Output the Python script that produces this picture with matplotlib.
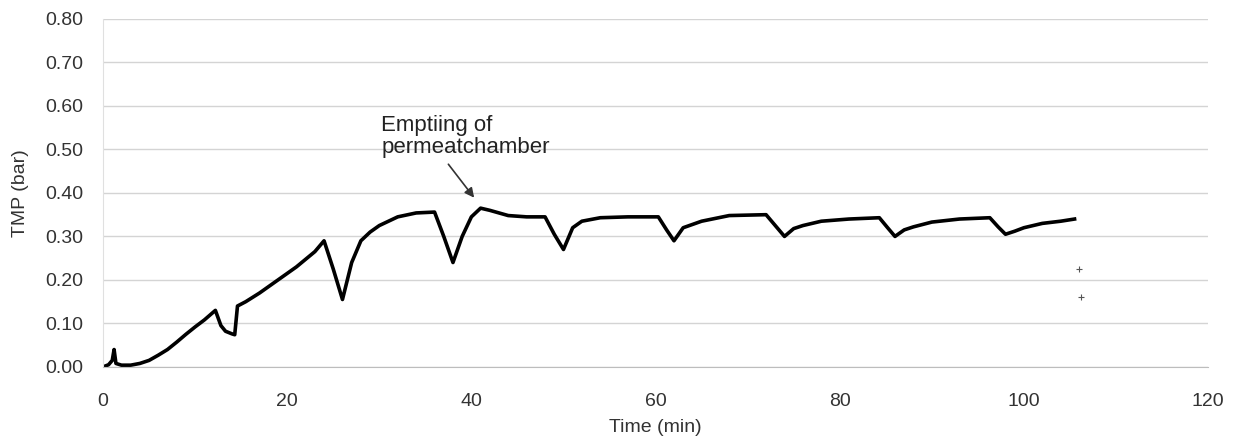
import matplotlib
matplotlib.use("Agg")
import matplotlib.pyplot as plt

plt.rcParams['font.family'] = ['Liberation Sans', 'DejaVu Sans']

# TMP record (time in minutes, TMP in bar)
time_min = [0.0, 0.6, 1.0, 1.2, 1.4, 2.0, 3.0, 4.0, 5.0, 6.0, 7.0, 8.0, 9.0, 10.0,
            11.0, 12.2, 12.8, 13.3, 14.0, 14.3, 14.6, 15.5, 17.0, 19.0, 21.0,
            23.0, 24.0, 25.0, 26.0, 27.0, 28.0, 29.0, 30.0, 31.0, 32.0, 34.0,
            36.0, 37.0, 38.0, 39.0, 40.0, 41.0, 42.0, 44.0, 46.0, 48.0, 49.0,
            50.0, 51.0, 52.0, 54.0, 57.0, 60.3, 61.2, 62.0, 63.0, 65.0, 68.0,
            72.0, 73.0, 74.0, 75.0, 76.0, 78.0, 81.0, 84.3, 85.2, 86.0, 87.0,
            88.0, 90.0, 93.0, 96.3, 97.2, 98.0, 99.0, 100.0, 102.0, 104.0, 105.5]
tmp_bar = [0.000, 0.005, 0.015, 0.040, 0.008, 0.004, 0.004, 0.008, 0.015, 0.027,
           0.040, 0.057, 0.075, 0.092, 0.108, 0.130, 0.095, 0.082, 0.076, 0.074,
           0.140, 0.150, 0.170, 0.200, 0.230, 0.265, 0.290, 0.225, 0.155, 0.240,
           0.290, 0.310, 0.325, 0.335, 0.345, 0.354, 0.356, 0.300, 0.240, 0.300,
           0.345, 0.365, 0.360, 0.348, 0.345, 0.345, 0.305, 0.270, 0.320, 0.335,
           0.343, 0.345, 0.345, 0.315, 0.290, 0.320, 0.335, 0.348, 0.350, 0.325,
           0.300, 0.318, 0.325, 0.335, 0.340, 0.343, 0.320, 0.300, 0.315, 0.322,
           0.333, 0.340, 0.343, 0.322, 0.305, 0.312, 0.320, 0.330, 0.335, 0.340]

# isolated readings after the run
stray_time = [106.0, 106.2]
stray_tmp = [0.225, 0.160]

x_ticks = [0, 20, 40, 60, 80, 100, 120]
y_ticks = [0.0, 0.1, 0.2, 0.3, 0.4, 0.5, 0.6, 0.7, 0.8]

fig = plt.figure(figsize=(12.34, 4.41), dpi=100)
ax = fig.add_axes([0.0835, 0.168, 0.8955, 0.789])

ax.plot(time_min, tmp_bar, color='black', lw=2.6, solid_joinstyle='round')
ax.plot(stray_time, stray_tmp, linestyle='none', marker='+', ms=4,
        color='#555555', mew=0.8)

ax.set_xlim(0, 120)
ax.set_ylim(0, 0.8)
ax.set_xticks(x_ticks)
ax.set_yticks(y_ticks)
ax.set_yticklabels([f"{v:.2f}" for v in y_ticks])
ax.tick_params(axis='both', length=0, labelsize=14, colors='#333333')
ax.tick_params(axis='x', pad=19)
ax.tick_params(axis='y', pad=14)

ax.grid(axis='y', color='#d4d4d4', lw=1.0)
ax.set_axisbelow(True)
for side in ['top', 'right']:
    ax.spines[side].set_visible(False)
ax.spines['left'].set_color('#e0e0e0')
ax.spines['bottom'].set_color('#bdbdbd')

ax.set_xlabel('Time (min)', fontsize=14, color='#333333', labelpad=6)
ax.set_ylabel('TMP (bar)', fontsize=14, color='#333333', labelpad=12)

ax.text(30.2, 0.530, 'Emptiing of\npermeatchamber', fontsize=16,
        color='#222222', ha='left', va='center', linespacing=1.05)
ax.annotate('', xy=(40.3, 0.389), xytext=(37.5, 0.466),
            arrowprops=dict(arrowstyle='-|>', color='#333333', lw=1.2,
                            mutation_scale=14, shrinkA=0, shrinkB=0))

fig.savefig('out.png', dpi=100)
